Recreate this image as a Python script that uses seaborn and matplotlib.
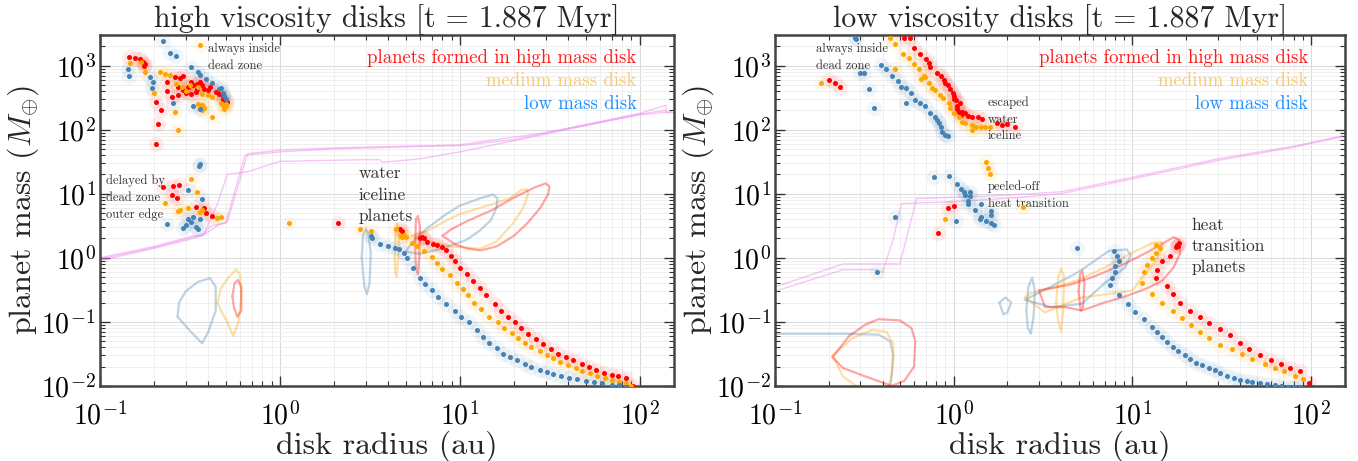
import matplotlib
matplotlib.use("Agg")
import matplotlib.pyplot as plt
import seaborn as sns
import numpy as np

# ---------------- high viscosity panel ----------------
hv_red_r = [0.145, 0.156, 0.167, 0.174, 0.178, 0.176, 0.236, 0.26, 0.28, 0.29, 0.32, 0.345,
            0.25, 0.27, 0.236, 0.27, 0.29, 0.31, 0.32, 0.33, 0.345, 0.34, 0.37, 0.38, 0.41,
            0.46, 0.48, 0.48, 0.51, 0.205, 0.218, 0.21, 0.205, 0.30, 0.36, 0.40, 0.44,
            0.225, 0.255, 0.275, 0.25, 0.268, 0.34, 0.38, 0.39, 0.42,
            2.1, 4.65, 4.8, 6.0, 6.2, 6.3, 6.6, 7.1, 7.5, 8.0, 8.4, 8.9, 9.4, 10.0, 10.9, 11.8,
            12.9, 14.0, 15.6, 17.0, 18.5, 20.2, 22.0, 23.9, 26.4, 29.0, 32.0, 35.0, 39.0, 42.5,
            47.5, 52.0, 57.5, 63.0, 70.0, 76.0, 84.0, 92.0]
hv_red_m = [1350, 1300, 1250, 1150, 1050, 970, 550, 660, 640, 680, 550, 520,
            320, 350, 400, 460, 420, 460, 360, 500, 430, 390, 500, 430, 460,
            360, 320, 290, 270, 270, 200, 123, 60, 380, 560, 420, 390,
            12.6, 13, 13.5, 9.5, 8.5, 6.2, 6.0, 5.0, 4.5,
            3.5, 2.8, 2.6, 2.0, 2.1, 2.05, 1.77, 1.65, 1.6, 1.48, 1.33, 1.07, 0.9, 0.7, 0.56, 0.44,
            0.34, 0.26, 0.19, 0.15, 0.118, 0.098, 0.08, 0.064, 0.054, 0.045, 0.038, 0.032, 0.028, 0.025,
            0.022, 0.0196, 0.0177, 0.016, 0.0148, 0.014, 0.0133, 0.0098]

hv_orange_r = [0.147, 0.17, 0.178, 0.2, 0.215, 0.23, 0.245, 0.265, 0.285, 0.3, 0.315, 0.37,
               0.35, 0.37, 0.37, 0.4, 0.42, 0.38, 0.48, 0.49, 0.5, 0.42, 0.26, 0.27, 0.36, 0.35,
               0.5, 0.47,
               0.32, 0.345, 0.23, 0.27, 0.28, 0.31, 0.36, 0.37, 0.45, 0.47,
               1.12, 2.8, 3.2, 4.4, 4.7, 4.8, 4.9, 5.0, 5.4, 5.8, 6.3, 7.0, 7.5, 8.0, 8.8, 9.6,
               10.4, 11.1, 12.0, 13.2, 14.6, 16.2, 17.7, 19.4, 21.0, 23.0, 25.0, 27.8, 30.4, 33.0,
               36.0, 40.0, 44.0, 48.0, 53.0, 58.0, 64.0, 70.0, 77.0, 84.0, 90.0]
hv_orange_m = [1100, 1150, 790, 370, 800, 740, 710, 520, 460, 400, 500, 360,
               250, 240, 200, 350, 320, 220, 240, 210, 250, 160, 190, 100, 2100, 470,
               230, 260,
               17, 10.5, 7.1, 5.3, 5.6, 6.0, 5.2, 5.5, 4.2, 4.3,
               3.5, 2.8, 2.6, 2.8, 2.2, 2.1, 2.3, 2.1, 1.7, 1.5, 1.28, 1.03, 0.84, 0.67, 0.53, 0.41,
               0.33, 0.26, 0.2, 0.16, 0.12, 0.098, 0.08, 0.066, 0.055, 0.047, 0.04, 0.035, 0.03, 0.027,
               0.024, 0.021, 0.019, 0.017, 0.016, 0.0145, 0.0134, 0.0124, 0.0116, 0.011, 0.0098]

hv_blue_r = [0.225, 0.245, 0.264, 0.143, 0.145, 0.19, 0.197, 0.195, 0.255, 0.32, 0.35, 0.36,
             0.39, 0.42, 0.46, 0.47, 0.48, 0.36, 0.33, 0.5, 0.49,
             0.36, 0.355, 0.31, 0.37, 0.31, 0.29, 0.236, 0.30, 0.32, 0.34, 0.35, 0.33, 0.36,
             3.2, 3.25, 3.6, 4.0, 4.35, 4.6, 4.9, 5.1, 5.5, 6.0, 6.4, 7.0, 7.6, 8.4, 9.4, 10.2,
             11.2, 12.4, 13.4, 14.6, 16.0, 17.3, 18.9, 20.7, 22.9, 25.0, 27.8, 30.4, 33.0, 36.7,
             40.7, 45.0, 50.6, 56.0, 62.0, 70.0, 77.0, 84.0]
hv_blue_m = [2400, 1600, 1400, 880, 690, 660, 550, 450, 260, 950, 800, 720,
             620, 530, 430, 450, 380, 210, 230, 300, 330,
             29, 27, 11.6, 8.2, 4.0, 2.9, 3.4, 3.3, 3.6, 3.0, 2.8, 4.3, 4.0,
             2.2, 2.0, 1.65, 1.5, 1.43, 1.38, 1.2, 1.0, 0.7, 0.49, 0.39, 0.31, 0.24, 0.19, 0.15, 0.117,
             0.098, 0.074, 0.058, 0.047, 0.039, 0.032, 0.028, 0.025, 0.022, 0.0196, 0.0176, 0.0166, 0.0154, 0.0145,
             0.0134, 0.013, 0.012, 0.0116, 0.011, 0.0104, 0.0104, 0.0097]

# iceline / heat transition tracks
hv_track1_r = [0.10, 0.20, 0.33, 0.37, 0.41, 0.51, 0.58, 0.66, 1.0, 2.0, 5.0, 10, 20, 50, 100, 140, 140, 155]
hv_track1_m = [1.0, 1.5, 2.2, 2.2, 3.1, 3.6, 12, 42, 48, 52, 55, 56, 70, 120, 180, 240, 185, 185]
hv_track2_r = [0.10, 0.20, 0.33, 0.38, 0.45, 0.51, 0.66, 1.0, 3.0, 3.6, 3.7, 6.0, 10, 30, 100, 140]
hv_track2_m = [0.95, 1.45, 2.1, 2.4, 7.0, 20, 22, 32, 34, 34, 31, 35, 45, 85, 175, 200]
hv_track3_r = [0.10, 0.20, 0.33, 0.38, 0.46, 0.50, 0.64, 1.0, 2.0, 5.0, 10, 30, 100, 150]
hv_track3_m = [0.9, 1.4, 2.0, 2.3, 3.3, 3.5, 40, 45, 50, 54, 58, 90, 170, 190]

# planet population contours
hv_loops = {
    "steelblue": [([0.27, 0.275, 0.30, 0.35, 0.41, 0.44, 0.44, 0.40, 0.37, 0.32, 0.27],
                   [0.12, 0.2, 0.3, 0.42, 0.48, 0.35, 0.15, 0.07, 0.046, 0.07, 0.12]),
                  ([2.85, 2.9, 3.0, 3.1, 3.2, 3.15, 3.05, 2.95, 2.85],
                   [1.0, 2.3, 2.8, 2.4, 1.2, 0.4, 0.27, 0.35, 1.0]),
                  ([5.0, 6.0, 8.0, 10.9, 13, 14.8, 16, 16.2, 15.3, 13, 10, 8.4, 6.6, 5.5, 5.0],
                   [1.25, 1.15, 1.4, 1.9, 2.7, 3.8, 6, 8.5, 9.7, 8.5, 6.5, 4.8, 2.9, 1.8, 1.25])],
    "orange": [([0.45, 0.47, 0.52, 0.57, 0.60, 0.61, 0.59, 0.55, 0.51, 0.47, 0.45],
                [0.2, 0.33, 0.5, 0.65, 0.55, 0.25, 0.1, 0.06, 0.1, 0.15, 0.2]),
               ([4.35, 4.4, 4.5, 4.6, 4.55, 4.45, 4.38, 4.35],
                [1.0, 2.8, 3.4, 2.5, 1.0, 0.5, 0.6, 1.0]),
               ([5.4, 6.8, 9, 12.9, 16, 19.7, 22.5, 24, 23.5, 22, 19, 15.5, 12.9, 10, 8.4, 6.6, 5.4],
                [2.2, 1.8, 1.5, 1.38, 1.8, 3.4, 6, 10, 11.8, 11.5, 8.5, 7, 6, 4.8, 3.8, 2.6, 2.2])],
    "red": [([0.545, 0.56, 0.585, 0.61, 0.61, 0.58, 0.555, 0.545],
             [0.25, 0.4, 0.45, 0.35, 0.15, 0.12, 0.17, 0.25]),
            ([5.65, 5.7, 5.85, 6.0, 5.95, 5.85, 5.7, 5.65],
             [1.5, 4.0, 4.5, 3.0, 1.0, 0.55, 0.7, 1.5]),
            ([8.0, 9.5, 11, 13, 16, 20, 23.6, 28, 31, 31.5, 30, 26, 19.7, 15, 10.9, 9, 8.0],
             [2.2, 1.6, 1.4, 1.3, 1.5, 2.2, 3.4, 6, 9.8, 13, 14.5, 12.5, 8.5, 5.5, 3.7, 2.8, 2.2])],
}

# ---------------- low viscosity panel ----------------
lv_red_r = [0.2, 0.217, 0.23, 0.53, 0.57, 0.6, 0.65, 0.7, 0.73, 0.74, 0.81, 0.85, 0.88, 0.9,
            0.93, 0.95, 0.99, 1.0, 1.0, 1.03, 1.08, 1.04, 1.05, 1.07, 1.11, 1.1, 1.15, 1.21,
            1.26, 1.36, 1.44, 1.74, 1.86, 2.0, 2.2,
            1.0, 0.93, 0.82,
            17.9, 18.3, 17.5, 18.1, 16.2, 14.7, 13.8, 13.5, 15.7, 16.8, 18.4, 21, 24, 27, 31,
            35, 40, 45, 52, 60, 68, 76, 87, 97]
lv_red_m = [590, 530, 460, 2700, 2700, 1900, 1500, 1250, 1100, 960, 780, 700, 590, 540,
            490, 430, 380, 340, 300, 290, 260, 230, 210, 190, 190, 170, 180, 165,
            160, 160, 145, 127, 120, 123, 110,
            6.5, 5.9, 2.4,
            1.58, 1.7, 1.45, 1.5, 1.07, 0.9, 0.65, 0.49, 0.36, 0.27, 0.2, 0.15, 0.12, 0.096, 0.078,
            0.063, 0.046, 0.037, 0.03, 0.025, 0.022, 0.019, 0.017, 0.011]

lv_orange_r = [0.18, 0.44, 0.47, 0.52, 0.47, 0.56, 0.6, 0.64, 0.66, 0.68, 0.69, 0.73, 0.76,
               0.79, 0.84, 0.87, 0.94, 0.96, 1.01, 1.07, 1.11, 1.15, 1.26, 1.26, 1.34, 1.42,
               1.5, 1.6,
               0.9, 1.51, 1.55, 1.59, 2.44,
               13.5, 14.3, 13.5, 12.9, 12.1, 11.7, 11.4, 12.9, 14.7, 16.8, 19, 21.2, 24, 27,
               31, 36, 41, 47, 55, 63, 71, 81, 90]
lv_orange_m = [530, 2700, 2200, 1500, 900, 1300, 1060, 870, 620, 680, 660, 530, 450,
               410, 350, 310, 260, 220, 180, 160, 130, 127, 120, 100, 110, 110,
               110, 110,
               4.0, 31, 25, 20, 6.1,
               1.58, 1.42, 1.19, 1.0, 0.78, 0.59, 0.4, 0.27, 0.2, 0.15, 0.115, 0.09, 0.07, 0.055,
               0.044, 0.037, 0.031, 0.026, 0.022, 0.019, 0.017, 0.0145, 0.0128]

lv_blue_r = [0.28, 0.285, 0.3, 0.316, 0.337, 0.36, 0.39, 0.42, 0.45, 0.485, 0.51, 0.54, 0.58,
             0.54, 0.61, 0.65, 0.69, 0.74, 0.79, 0.81, 0.83, 0.85, 0.86, 0.89, 0.93,
             0.78, 0.94, 1.05, 1.1, 1.14, 1.23, 1.23, 1.15, 1.2, 1.21, 1.31, 1.42, 1.61, 1.61,
             1.42, 1.4, 1.51, 1.61, 1.68, 1.03, 0.47, 0.37,
             4.9, 7.9, 8.2, 8.4, 8.0, 8.0, 7.7, 7.5, 8.4, 9.4, 10.4, 11.7, 12.9, 13.8, 14.7,
             15.7, 16.8, 18, 19.6, 21, 22.6, 24.7, 27, 29, 31, 34, 37, 40, 44, 47, 52, 57,
             63, 68, 74, 80, 87]
lv_blue_m = [2700, 2600, 780, 760, 430, 220, 1030, 900, 700, 570, 460, 440, 370,
             260, 290, 260, 230, 180, 160, 140, 127, 110, 93, 83, 80,
             18, 19, 14, 12, 10.7, 10.7, 9.3, 9.6, 7.8, 6.8, 5.5, 6.8, 5.3, 4.6,
             4.3, 4.1, 3.8, 3.5, 3.3, 3.7, 4.4, 0.59,
             1.43, 1.28, 1.07, 0.9, 0.75, 0.6, 0.49, 0.37, 0.26, 0.19, 0.14, 0.11, 0.082, 0.07, 0.058,
             0.048, 0.04, 0.035, 0.03, 0.026, 0.023, 0.021, 0.019, 0.0175, 0.016, 0.0145, 0.0133, 0.0125,
             0.0117, 0.0113, 0.011, 0.0107, 0.0104, 0.01, 0.0097, 0.0096, 0.0095]

lv_track1_r = [0.10, 0.24, 0.50, 0.53, 0.62, 1.0, 2.0, 4.0, 10, 30, 80, 150]
lv_track1_m = [0.35, 0.8, 0.8, 1.5, 8.4, 8.8, 9.5, 10.7, 18, 35, 55, 80]
lv_track2_r = [0.10, 0.24, 0.37, 0.40, 0.46, 0.51, 1.0, 2.0, 4.0, 10, 30, 80, 150]
lv_track2_m = [0.3, 0.65, 0.65, 0.59, 2.0, 7.0, 7.5, 8.5, 10, 17, 33, 53, 78]

lv_loops = {
    "steelblue": [([0.08, 0.25, 0.38, 0.44, 0.46, 0.45, 0.44],
                   [0.065, 0.065, 0.063, 0.05, 0.03, 0.015, 0.009]),
                  ([1.8, 1.95, 2.1, 2.0, 1.9, 1.8],
                   [0.2, 0.24, 0.2, 0.14, 0.13, 0.2]),
                  ([2.55, 2.62, 2.75, 2.85, 2.8, 2.7, 2.6, 2.55],
                   [0.15, 0.35, 0.49, 0.3, 0.12, 0.065, 0.08, 0.15]),
                  ([2.5, 3.4, 5, 7.4, 9.3, 9.8, 9.1, 7, 5.2, 3.5, 2.5],
                   [0.22, 0.34, 0.6, 1.28, 1.35, 1.1, 0.7, 0.4, 0.19, 0.17, 0.22])],
    "orange": [([0.3, 0.24, 0.21, 0.27, 0.35, 0.42, 0.46, 0.45, 0.43],
                [0.009, 0.014, 0.03, 0.055, 0.075, 0.07, 0.045, 0.015, 0.009]),
               ([3.75, 3.85, 4.0, 4.15, 4.1, 4.0, 3.85, 3.75],
                [0.2, 0.5, 0.68, 0.5, 0.15, 0.07, 0.1, 0.2]),
               ([2.5, 3.25, 5.2, 8, 10, 13.5, 14.8, 14.5, 13, 10, 7, 5, 3.5, 2.7, 2.5],
                [0.24, 0.14, 0.24, 0.28, 0.31, 0.9, 1.5, 1.75, 1.7, 1.2, 0.7, 0.45, 0.33, 0.28, 0.24])],
    "red": [([0.21, 0.26, 0.32, 0.38, 0.5, 0.58, 0.61, 0.6, 0.53, 0.45, 0.3, 0.24, 0.21],
             [0.028, 0.06, 0.09, 0.11, 0.105, 0.08, 0.05, 0.02, 0.012, 0.01, 0.015, 0.019, 0.028]),
            ([5.0, 5.1, 5.25, 5.4, 5.3, 5.15, 5.0],
             [0.3, 0.55, 0.62, 0.4, 0.17, 0.15, 0.3]),
            ([3.0, 3.25, 4.2, 5.2, 7, 8.8, 12, 14.7, 17, 18.5, 18.3, 17, 15, 12, 9, 6, 4.5, 3.4, 3.0],
             [0.31, 0.17, 0.17, 0.15, 0.2, 0.24, 0.33, 0.44, 0.7, 1.15, 1.9, 2.1, 1.7, 1.2, 0.8, 0.5, 0.38, 0.33, 0.31])],
}

legend_labels = ["planets formed in high mass disk", "medium mass disk", "low mass disk"]
legend_colors = ["#ff1a1a", "#ffc766", "#1e90ff"]

sns.set_style("ticks")
plt.rcParams["font.family"] = ["cmr10", "DejaVu Serif"]
plt.rcParams["mathtext.fontset"] = "cm"
plt.rcParams["axes.formatter.use_mathtext"] = True
plt.rcParams["axes.unicode_minus"] = False

fig = plt.figure(figsize=(13.58, 4.61), dpi=100)
ax1 = fig.add_axes([0.0736, 0.163, 0.4227, 0.761])
ax2 = fig.add_axes([0.5707, 0.163, 0.4197, 0.761])


def draw_panel(ax, pts, tracks, loops, title):
    for xs, ys in tracks:
        sns.lineplot(x=xs, y=ys, ax=ax, sort=False, estimator=None, color="violet",
                     alpha=0.45, lw=1.0, zorder=2)
    for col, shapes in loops.items():
        for xs, ys in shapes:
            sns.lineplot(x=xs, y=ys, ax=ax, sort=False, estimator=None, color=col,
                         alpha=0.35, lw=1.6, zorder=2)
    for xs, ys, col in pts:
        # soft glow behind each planet
        sns.scatterplot(x=xs, y=ys, ax=ax, s=120, color=col, alpha=0.07, linewidth=0, zorder=3)
    for xs, ys, col in pts:
        sns.scatterplot(x=xs, y=ys, ax=ax, s=13, color=col, linewidth=0, zorder=4)

    ax.set_xscale("log")
    ax.set_yscale("log")
    ax.set_xlim(0.1, 155)
    ax.set_ylim(0.01, 3000)
    ax.grid(True, which="major", color="#d9d9d9", lw=0.7)
    ax.grid(True, which="minor", color="#ececec", lw=0.6)
    ax.set_axisbelow(True)
    ax.tick_params(which="both", direction="in", top=True, right=True, labelsize=20,
                   colors="#333333", labelcolor="black")
    ax.tick_params(axis="x", which="major", pad=11)
    ax.tick_params(axis="y", which="major", pad=3)
    ax.tick_params(which="major", length=7, width=1.0)
    ax.tick_params(which="minor", length=3.5, width=0.8)
    for sp in ax.spines.values():
        sp.set_color("#444444")
        sp.set_linewidth(1.8)
    ax.set_xlabel("disk radius (au)", fontsize=23, labelpad=0)
    ax.set_ylabel(r"planet mass ($M_{\oplus}$)", fontsize=23, labelpad=0)
    ax.set_title(title, fontsize=21.5, pad=3)
    for i, (lab, col) in enumerate(zip(legend_labels, legend_colors)):
        ax.text(0.935, 0.935 - i * 0.066, lab, color=col, fontsize=13.5, ha="right",
                va="center", transform=ax.transAxes)


draw_panel(ax1,
           [(hv_red_r, hv_red_m, "red"), (hv_orange_r, hv_orange_m, "orange"),
            (hv_blue_r, hv_blue_m, "steelblue")],
           [(hv_track1_r, hv_track1_m), (hv_track2_r, hv_track2_m), (hv_track3_r, hv_track3_m)],
           hv_loops, "high viscosity disks [t = 1.887 Myr]")
draw_panel(ax2,
           [(lv_red_r, lv_red_m, "red"), (lv_orange_r, lv_orange_m, "orange"),
            (lv_blue_r, lv_blue_m, "steelblue")],
           [(lv_track1_r, lv_track1_m), (lv_track2_r, lv_track2_m)],
           lv_loops, "low viscosity disks [t = 1.887 Myr]")

# annotations
note = dict(color="#333333", va="top", ha="left", linespacing=1.5)
ax1.text(0.40, 2300, "always inside\ndead zone", fontsize=9, **note)
ax1.text(0.108, 20, "delayed by\ndead zone\nouter edge", fontsize=9, **note)
ax1.text(2.75, 27, "water\niceline\nplanets", fontsize=12.5, **note)
ax2.text(0.17, 2300, "always inside\ndead zone", fontsize=9, **note)
ax2.text(1.55, 330, "escaped\nwater\niceline", fontsize=9, **note)
ax2.text(1.55, 16, "peeled-off\nheat transition", fontsize=9, **note)
ax2.text(21.5, 4.3, "heat\ntransition\nplanets", fontsize=12.5, **note)

fig.savefig("out.png", dpi=100)
